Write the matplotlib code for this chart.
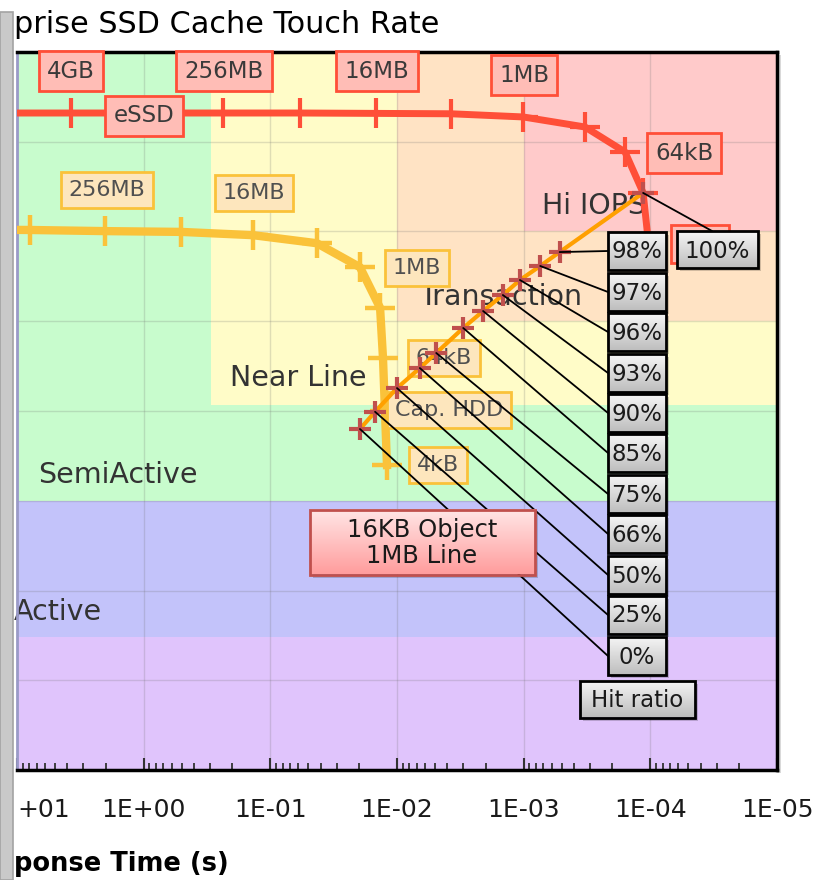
import numpy as np
import matplotlib
matplotlib.use('Agg')
from matplotlib import pyplot as plt
from matplotlib.patches import Rectangle
from matplotlib.colors import LinearSegmentedColormap
from matplotlib.ticker import LogLocator, NullFormatter, FixedLocator

plt.rcParams['font.family'] = ['DejaVu Sans']

# ---- data (response time in s, touch rate) ----
essd_size = ['16GB', '4GB', '1GB', '256MB', '64MB', '16MB', '4MB', '1MB', '256kB', '64kB', '16kB', '4kB']
essd_time = [14.9, 3.75, 0.925, 0.237, 0.0583, 0.01465, 0.00375, 0.00101, 3.28e-4, 1.585e-4, 1.14e-4, 1.02e-4]
essd_rate = [2.09e5, 2.09e5, 2.09e5, 2.09e5, 2.09e5, 2.07e5, 2.05e5, 1.89e5, 1.46e5, 7.7e4, 2.7e4, 6.2e3]

hdd_size = ['4GB', '1GB', '256MB', '64MB', '16MB', '4MB', '1MB', '256kB', '64kB', '16kB', '4kB']
hdd_time = [31.4, 7.9, 2.02, 0.507, 0.137, 0.0429, 0.0196, 0.0136, 0.0129, 0.01245, 0.0120]
hdd_rate = [1.05e4, 1.04e4, 1.01e4, 9.9e3, 9.1e3, 7.4e3, 4.0e3, 1.41e3, 3.9e2, 1.0e2, 25]

hit_pct = ['0%', '25%', '50%', '66%', '75%', '85%', '90%', '93%', '96%', '97%', '98%', '100%']
hit_time = [0.0196, 0.0149, 0.0100, 6.6e-3, 4.9e-3, 3.0e-3, 2.09e-3, 1.46e-3, 1.07e-3, 7.4e-4, 5.2e-4, 1.14e-4]
hit_rate = [63, 98, 180, 301, 443, 841, 1.3e3, 1.96e3, 2.88e3, 4.13e3, 5.9e3, 2.69e4]

# the picture is cropped on the left, so only the visible part of these texts is kept
xtick_vals = [10, 1, 0.1, 0.01, 1e-3, 1e-4, 1e-5]
xtick_labels = ['+01', '1E+00', '1E-01', '1E-02', '1E-03', '1E-04', '1E-05']
title_text = 'prise SSD Cache Touch Rate'
xlabel_text = 'ponse Time (s)'

# zones: (name, x from, y from, y to, colour) - each zone runs to the fast edge
zones = [
    ('green', 10, 10, 1e6, '#c8fccd'),
    ('yellow', 0.294, 117, 1e6, '#fffcc8'),
    ('orange', 0.01, 1e3, 1e6, '#ffe3c4'),
    ('pink', 1e-3, 1e4, 1e6, '#ffcaca'),
    ('blue', 10, 0.3, 10, '#c3c3fa'),
    ('purple', 10, 1e-2, 0.3, '#e0c4fc'),
]

# ---- layout (pixels of the 819x880 picture) ----
W, H = 819, 880
AX_L, AX_R, AX_T, AX_B = 17, 777, 52, 770

fig = plt.figure(figsize=(W / 100, H / 100), dpi=100)
ax = fig.add_axes([AX_L / W, (H - AX_B) / H, (AX_R - AX_L) / W, (AX_B - AX_T) / H])
ax.set_xscale('log')
ax.set_yscale('log')


def axp(x, y):
    # picture pixel -> axes fraction
    return (x - AX_L) / (AX_R - AX_L), (AX_B - y) / (AX_B - AX_T)


for name, x0, y0, y1, c in zones:
    ax.fill_between([x0, 1e-5], y0, y1, color=c, lw=0, zorder=0)

ax.grid(True, which='major', color='#707070', alpha=0.22, lw=1, zorder=1)
ax.set_axisbelow(True)

# lines
ax.plot(hdd_time, hdd_rate, color='#fac23a', lw=6, marker='+', ms=21, mew=3.2,
        solid_joinstyle='round', zorder=3)
ax.plot(essd_time, essd_rate, color='#ff4f38', lw=5, marker='+', ms=21, mew=3,
        solid_joinstyle='round', zorder=3)
ax.plot(hit_time, hit_rate, color='#ffa000', lw=3, zorder=5)
ax.plot(hit_time, hit_rate, ls='none', marker='+', ms=16, mew=3, color='#c0504d', zorder=5.1)

# zone names
zone_text = [('Hi IOPS', 594, 206), ('Transaction', 501, 297), ('Near Line', 298, 378),
             ('SemiActive', 118, 475)]
for t, x, y in zone_text:
    ax.text(*axp(x, y), t, transform=ax.transAxes, ha='center', va='center',
            fontsize=20.5, color='#333333', zorder=2)
ax.text(*axp(14, 612), 'Active', transform=ax.transAxes, ha='left', va='center',
        fontsize=20.5, color='#333333', zorder=2, clip_on=False)

# size labels
essd_lab = [('4GB', 71, 71), ('256MB', 224, 71), ('16MB', 377, 71), ('1MB', 524, 75),
            ('64kB', 684, 153), ('eSSD', 144, 116)]
for t, x, y in essd_lab:
    ax.text(*axp(x, y), t, transform=ax.transAxes, ha='center', va='center', fontsize=16.5,
            color='#3a3a3a', zorder=4,
            bbox=dict(boxstyle='square,pad=0.36', fc='#ffbdb6', ec='#ff4f38', lw=2))
# eSSD label of the last point, hidden behind the 100% call-out
hx0, hy0 = axp(671, 263)
hx1, hy1 = axp(729, 225)
ax.add_patch(Rectangle((hx0, hy0), hx1 - hx0, hy1 - hy0, transform=ax.transAxes,
                       fc='#ffbdb6', ec='#ff4f38', lw=2, zorder=4))

hdd_lab = [('256MB', 107, 190), ('16MB', 254, 193), ('1MB', 417, 268), ('64kB', 444, 358),
           ('Cap. HDD', 449, 410), ('4kB', 438, 465)]
for t, x, y in hdd_lab:
    ax.text(*axp(x, y), t, transform=ax.transAxes, ha='center', va='center', fontsize=16,
            color='#505050', zorder=4,
            bbox=dict(boxstyle='square,pad=0.34', fc='#fde6bd', ec='#fac23a', lw=2))


def grad_box(cx, cy, w, h, top, bot, ec, z, lw=2):
    x0, y0 = axp(cx - w / 2, cy + h / 2)
    x1, y1 = axp(cx + w / 2, cy - h / 2)
    sx, sy = axp(cx - w / 2 + 3, cy + h / 2 + 3)
    ax.add_patch(Rectangle((sx, sy), x1 - x0, y1 - y0, transform=ax.transAxes,
                           fc='black', alpha=0.18, lw=0, zorder=z - 0.02))
    cmap = LinearSegmentedColormap.from_list('g', [bot, top])
    ax.imshow(np.linspace(0, 1, 64).reshape(-1, 1), extent=(x0, x1, y0, y1), origin='lower',
              cmap=cmap, aspect='auto', transform=ax.transAxes, zorder=z - 0.01,
              interpolation='bilinear')
    ax.add_patch(Rectangle((x0, y0), x1 - x0, y1 - y0, transform=ax.transAxes,
                           fill=False, ec=ec, lw=lw, zorder=z))


# hit ratio call-outs
hit_box_y = [656, 615, 575, 534, 494, 453, 413, 373, 332, 292, 251]
for i, yc in enumerate(hit_box_y):
    ax.annotate('', xy=(hit_time[i], hit_rate[i]), xycoords='data',
                xytext=axp(608, yc), textcoords='axes fraction',
                arrowprops=dict(arrowstyle='-', color='black', lw=1.3, shrinkA=0, shrinkB=0),
                zorder=6)
    grad_box(637, yc, 58, 38, '#f6f6f6', '#bdbdbd', 'black', 8)
    ax.text(*axp(637, yc + 1), hit_pct[i], transform=ax.transAxes, ha='center', va='center',
            fontsize=16.5, color='#1a1a1a', zorder=8.1)

ax.annotate('', xy=(hit_time[-1], hit_rate[-1]), xycoords='data',
            xytext=axp(712, 231), textcoords='axes fraction',
            arrowprops=dict(arrowstyle='-', color='black', lw=1.3, shrinkA=0, shrinkB=0),
            zorder=6)
grad_box(717, 250, 81, 37, '#f6f6f6', '#bdbdbd', 'black', 8)
ax.text(*axp(717, 251), hit_pct[-1], transform=ax.transAxes, ha='center', va='center',
        fontsize=16.5, color='#1a1a1a', zorder=8.1)

grad_box(637, 699, 115, 37, '#f6f6f6', '#bdbdbd', 'black', 8)
ax.text(*axp(637, 700), 'Hit ratio', transform=ax.transAxes, ha='center', va='center',
        fontsize=16.5, color='#1a1a1a', zorder=8.1)

grad_box(422, 542, 225, 65, '#ffe6e6', '#ff9d9d', '#c0504d', 7)
ax.text(*axp(422, 543), '16KB Object\n1MB Line', transform=ax.transAxes, ha='center',
        va='center', fontsize=17.5, color='#1a1a1a', zorder=7.1, linespacing=1.15)

# axes
ax.set_xlim(10, 1e-5)
ax.set_ylim(1e-2, 1e6)
ax.xaxis.set_major_locator(FixedLocator(xtick_vals))
ax.set_xticklabels(xtick_labels)
ax.get_xticklabels()[0].set_horizontalalignment('left')
ax.xaxis.set_minor_locator(LogLocator(base=10, subs=range(2, 10), numticks=20))
ax.xaxis.set_minor_formatter(NullFormatter())
ax.yaxis.set_major_locator(FixedLocator([10.0 ** k for k in range(-2, 7)]))
ax.yaxis.set_minor_locator(FixedLocator([]))
ax.tick_params(axis='x', which='major', direction='in', length=9, width=1.5, color='#333333',
               labelsize=18, labelcolor='#1a1a1a', pad=20)
ax.tick_params(axis='x', which='minor', direction='in', length=5, width=1.3, color='#333333')
ax.tick_params(axis='y', which='both', left=False, labelleft=False)
for s in ['top', 'right', 'bottom']:
    ax.spines[s].set_color('black')
    ax.spines[s].set_linewidth(2.5)
ax.spines['left'].set_color('#9a9ac8')
ax.spines['left'].set_linewidth(2)

fig.text(14 / W, 1 - 33 / H, title_text, ha='left', va='baseline',
         fontsize=21.8, color='black')
fig.text(14 / W, 1 - 871 / H, xlabel_text, ha='left', va='baseline',
         fontsize=18.5, fontweight='bold', color='black')

# right-hand shadow of the frame and the grey bar at the left of the crop
fig.add_artist(Rectangle((AX_R / W, (H - AX_B - 3) / H), 4 / W, (AX_B - AX_T) / H,
                         transform=fig.transFigure, fc='black', alpha=0.15, lw=0, zorder=-1))
fig.add_artist(Rectangle((0, 0), 13 / W, (H - 12) / H, transform=fig.transFigure,
                         fc='#c9c9c9', ec='#a3a3a3', lw=1.2, zorder=10))

fig.savefig('out.png', dpi=100)
